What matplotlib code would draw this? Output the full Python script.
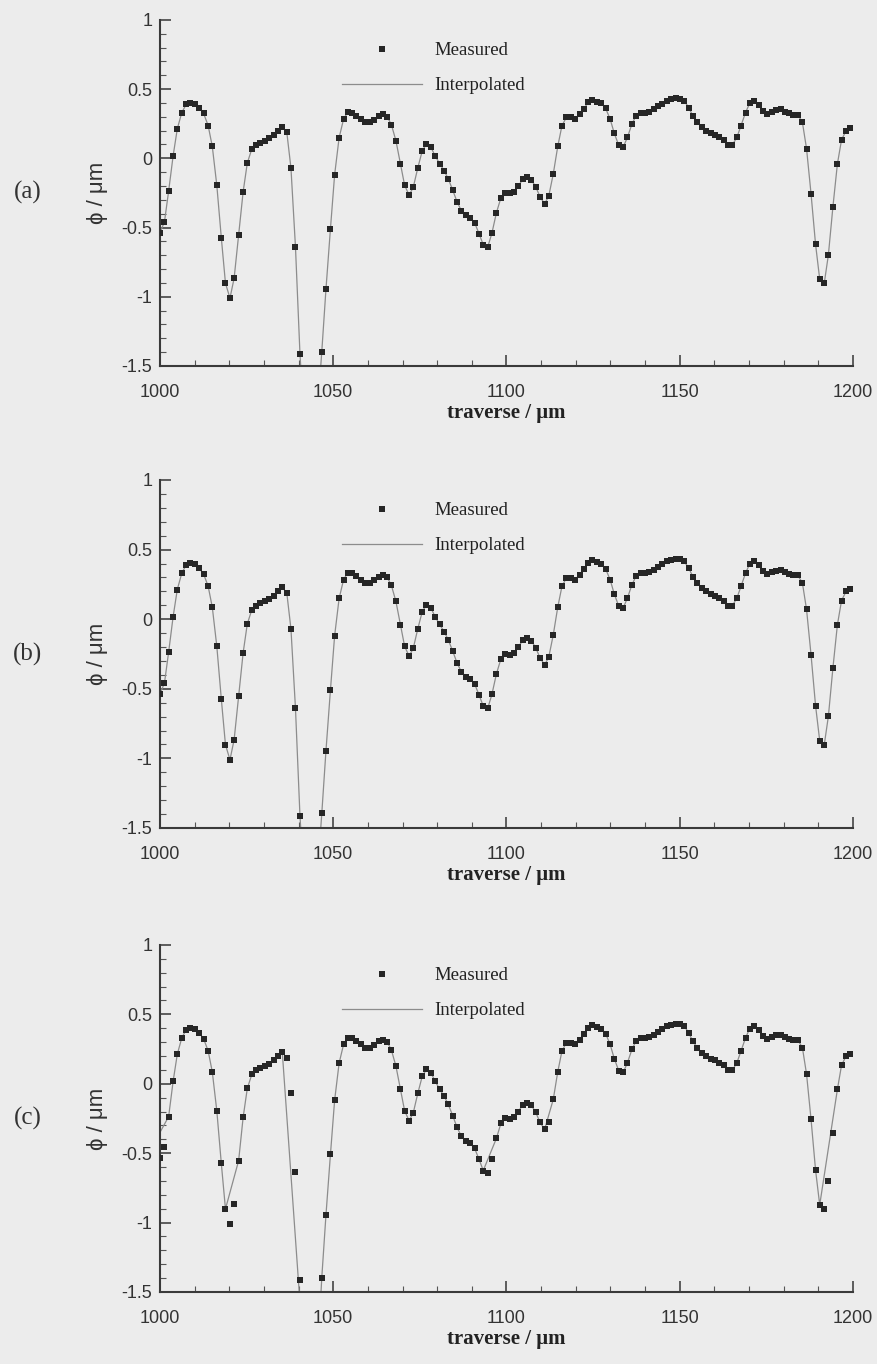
import numpy as np
import matplotlib
matplotlib.use('Agg')
import matplotlib.pyplot as plt
from matplotlib.ticker import MultipleLocator
from matplotlib.lines import Line2D

# measured phase (um) along the traverse (um)
x_meas = [
    1000.0, 1001.3, 1002.5, 1003.8, 1005.0, 1006.3, 1007.6, 1008.8, 1010.1, 1011.3,
    1012.6, 1013.9, 1015.1, 1016.4, 1017.7, 1018.9, 1020.2, 1021.4, 1022.7, 1024.0,
    1025.2, 1026.5, 1027.7, 1029.0, 1030.3, 1031.5, 1032.8, 1034.0, 1035.3, 1036.6,
    1037.8, 1039.1, 1040.4, 1041.6, 1042.9, 1044.1, 1045.4, 1046.7, 1047.9, 1049.2,
    1050.4, 1051.7, 1053.0, 1054.2, 1055.5, 1056.7, 1058.0, 1059.3, 1060.5, 1061.8,
    1063.1, 1064.3, 1065.6, 1066.8, 1068.1, 1069.4, 1070.6, 1071.9, 1073.1, 1074.4,
    1075.7, 1076.9, 1078.2, 1079.4, 1080.7, 1082.0, 1083.2, 1084.5, 1085.7, 1087.0,
    1088.3, 1089.5, 1090.8, 1092.1, 1093.3, 1094.6, 1095.8, 1097.1, 1098.4, 1099.6,
    1100.9, 1102.1, 1103.4, 1104.7, 1105.9, 1107.2, 1108.4, 1109.7, 1111.0, 1112.2,
    1113.5, 1114.8, 1116.0, 1117.3, 1118.5, 1119.8, 1121.1, 1122.3, 1123.6, 1124.8,
    1126.1, 1127.4, 1128.6, 1129.9, 1131.1, 1132.4, 1133.7, 1134.9, 1136.2, 1137.4,
    1138.7, 1140.0, 1141.2, 1142.5, 1143.8, 1145.0, 1146.3, 1147.5, 1148.8, 1150.1,
    1151.3, 1152.6, 1153.8, 1155.1, 1156.4, 1157.6, 1158.9, 1160.1, 1161.4, 1162.7,
    1163.9, 1165.2, 1166.5, 1167.7, 1169.0, 1170.2, 1171.5, 1172.8, 1174.0, 1175.3,
    1176.5, 1177.8, 1179.1, 1180.3, 1181.6, 1182.8, 1184.1, 1185.4, 1186.6, 1187.9,
    1189.2, 1190.4, 1191.7, 1192.9, 1194.2, 1195.5, 1196.7, 1198.0, 1199.2]
phi_meas = [
    -0.537, -0.458, -0.237, 0.019, 0.213, 0.331, 0.391, 0.403, 0.396, 0.367,
    0.324, 0.237, 0.086, -0.194, -0.573, -0.902, -1.010, -0.866, -0.554, -0.242,
    -0.034, 0.067, 0.096, 0.113, 0.127, 0.146, 0.170, 0.199, 0.228, 0.189,
    -0.070, -0.638, -1.412, -1.9, -2.2, -2.2, -1.85, -1.396, -0.947, -0.508,
    -0.120, 0.149, 0.285, 0.333, 0.331, 0.309, 0.283, 0.261, 0.261, 0.278,
    0.305, 0.319, 0.300, 0.242, 0.127, -0.041, -0.194, -0.266, -0.209, -0.070,
    0.055, 0.103, 0.079, 0.019, -0.038, -0.089, -0.149, -0.230, -0.312, -0.379,
    -0.412, -0.429, -0.465, -0.545, -0.625, -0.640, -0.540, -0.393, -0.285, -0.249,
    -0.254, -0.242, -0.201, -0.151, -0.137, -0.156, -0.204, -0.278, -0.329, -0.273,
    -0.113, 0.086, 0.235, 0.297, 0.297, 0.285, 0.319, 0.357, 0.405, 0.422,
    0.410, 0.398, 0.362, 0.285, 0.182, 0.094, 0.082, 0.151, 0.247, 0.309,
    0.331, 0.331, 0.338, 0.355, 0.376, 0.396, 0.415, 0.427, 0.434, 0.432,
    0.415, 0.367, 0.305, 0.259, 0.223, 0.199, 0.182, 0.168, 0.153, 0.132,
    0.098, 0.098, 0.151, 0.237, 0.331, 0.398, 0.415, 0.386, 0.345, 0.321,
    0.336, 0.348, 0.355, 0.338, 0.326, 0.314, 0.314, 0.261, 0.070, -0.257,
    -0.621, -0.873, -0.904, -0.698, -0.353, -0.041, 0.134, 0.199, 0.218]

# panel (c): coarser interpolation, some measured points are not on the line
c_skip = [0, 1, 16, 17, 29, 30, 31, 32, 33, 34, 35, 36, 75, 76, 89, 152, 153, 154]
c_extra_x = [1000.0, 1041.6, 1045.4]
c_extra_y = [-0.35, -2.0, -2.0]

panel_labels = ['(a)', '(b)', '(c)']
xticks = [1000, 1050, 1100, 1150, 1200]
yticks = [-1.5, -1, -0.5, 0, 0.5, 1]
ytick_labels = ['-1.5', '-1', '-0.5', '0', '0.5', '1']

plt.rcParams['axes.unicode_minus'] = False
bg = '#ececec'
sans = ['Liberation Sans', 'DejaVu Sans']
serif = ['Liberation Serif', 'DejaVu Serif']

xm = np.array(x_meas)
ym = np.array(phi_meas)
keep = np.setdiff1d(np.arange(len(xm)), c_skip)
cx = np.concatenate([xm[keep], c_extra_x])
cy = np.concatenate([ym[keep], c_extra_y])
order = np.argsort(cx)
lines = [(xm, ym), (xm, ym), (cx[order], cy[order])]

fig = plt.figure(figsize=(8.78, 13.64), dpi=100, facecolor=bg)
boxes = [[0.1822, 0.7317, 0.7893, 0.2537],
         [0.1822, 0.3930, 0.7893, 0.2551],
         [0.1822, 0.0528, 0.7893, 0.2544]]

for box, lab, (lx, ly) in zip(boxes, panel_labels, lines):
    ax = fig.add_axes(box)
    ax.set_facecolor('none')
    ax.plot(lx, ly, color='#8c8c8c', lw=0.9, zorder=2)
    ax.plot(xm, ym, ls='none', marker='s', ms=3.9, mew=0, color='#262626', zorder=3)
    ax.set_xlim(1000, 1200)
    ax.set_ylim(-1.5, 1)
    ax.set_xticks(xticks)
    ax.set_xticklabels([str(t) for t in xticks], family=sans)
    ax.set_yticks(yticks)
    ax.set_yticklabels(ytick_labels, family=sans)
    ax.xaxis.set_minor_locator(MultipleLocator(10))
    ax.yaxis.set_minor_locator(MultipleLocator(0.1))
    ax.tick_params(which='major', direction='in', length=8, width=1.2,
                   color='#444444', labelsize=13, labelcolor='#333333')
    ax.tick_params(which='minor', direction='in', length=4, width=0.8, color='#555555')
    ax.tick_params(axis='x', which='major', pad=13)
    ax.tick_params(axis='y', which='major', pad=5.5)
    for s in ['top', 'right']:
        ax.spines[s].set_visible(False)
    for s in ['left', 'bottom']:
        ax.spines[s].set_color('#3a3a3a')
        ax.spines[s].set_linewidth(1.5)

    handles = [Line2D([], [], ls='none', marker='s', ms=3.9, mew=0, color='#262626'),
               Line2D([], [], color='#8c8c8c', lw=0.9)]
    ax.legend(handles, ['Measured', 'Interpolated'], loc='upper left',
              bbox_to_anchor=(0.262, 0.936), frameon=False, borderpad=0,
              borderaxespad=0, handlelength=4.3, handletextpad=0.64,
              labelspacing=0.95, prop={'family': serif, 'size': 13.5},
              labelcolor='#222222')

    ax.annotate('traverse / μm', xy=(0.5, 0), xycoords='axes fraction',
                xytext=(0, -34), textcoords='offset points', ha='center',
                va='center', family=serif, weight='bold', fontsize=15, color='#222222')

    cy_fig = box[1] + box[3] / 2
    fig.text(98 / 878, cy_fig, 'ϕ / μm', rotation=90, ha='center', va='center',
             family=sans, fontsize=16, color='#333333')
    fig.text(28 / 878, cy_fig, lab, ha='center', va='center',
             family=serif, fontsize=18, color='#333333')

fig.savefig('out.png', dpi=100, facecolor=bg)
